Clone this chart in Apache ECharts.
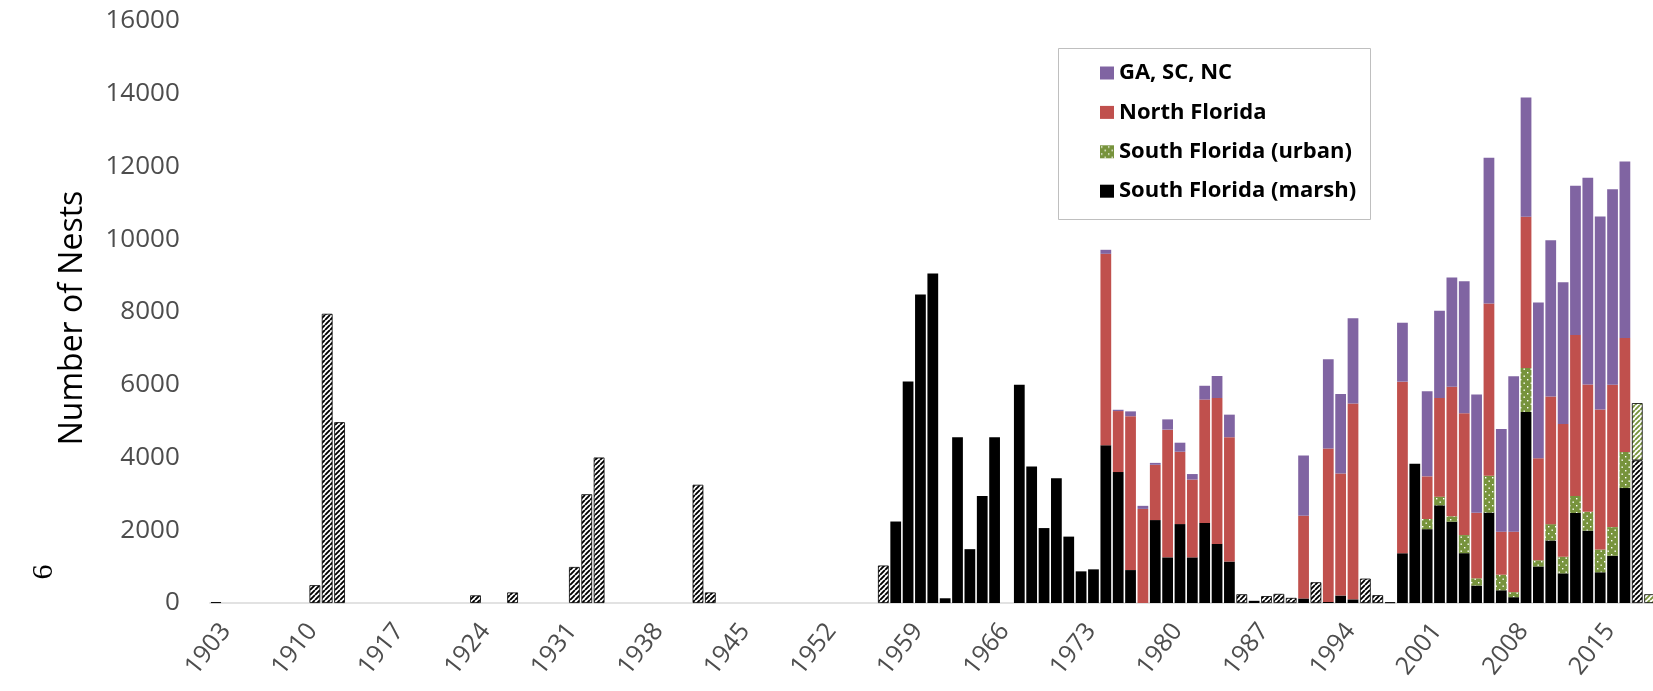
<!DOCTYPE html>
<html>
<head>
<meta charset="utf-8">
<script src="https://cdn.jsdelivr.net/npm/echarts@6/dist/echarts.min.js"></script>
<style>
  html, body { margin: 0; padding: 0; background: #fff; }
  #chart { width: 1653px; height: 691px; }
</style>
</head>
<body>
<div id="chart"></div>
<script>
// Wood stork nest counts by region, 1903-2019

const firstYear = 1903;
const lastYear = 2019;

// Counts without a regional breakdown: [year, nests]
const unknownRegion = [
  [1903, 25], [1911, 490], [1912, 7950], [1913, 4970], [1924, 210], [1927, 290],
  [1932, 990], [1933, 2990], [1934, 4000], [1942, 3250], [1943, 290], [1957, 1030],
  [1986, 240], [1988, 190], [1989, 250], [1990, 140], [1992, 570], [1996, 670],
  [1997, 215], [1998, 20], [2018, 3920]
];

// Preliminary urban South Florida counts: [year, nests]
const urbanPreliminary = [[2018, 1575], [2019, 240]];

// South Florida (marsh), one value per year starting 1958
const marshStart = 1958;
const marsh = [
  2240, 6090, 8480, 9060, 130, 4560, 1480, 2940, 4560, null,   // 1958-1967
  6000, 3750, 2060, 3430, 1825, 870, 925, 4335, 3600, 905,     // 1968-1977
  0, 2280, 1255, 2170, 1255, 2200, 1625, 1140, null, 60,       // 1978-1987
  null, null, null, 125, null, 30, 205, 100, null, null,       // 1988-1997
  null, 1368, 3830, 2030, 2685, 2235, 1370, 480, 2485, 350,    // 1998-2007
  160, 5250, 1005, 1720, 815, 2475, 1990, 845, 1300, 3160      // 2008-2017
];

// South Florida (urban), one value per year starting 2001
const urbanStart = 2001;
const urban = [
  279, 239, 149, 497, 199, 1014, 428, 139, 1213, 169,          // 2001-2010
  447, 458, 467, 517, 626, 786, 994                            // 2011-2017
];

// North Florida and GA/SC/NC, one value per year starting 1975
const northStart = 1975;
const northFlorida = [
  5265, 1677, 4230, 2587, 1520, 3511, 1989, 2139, 3393, 4011,  // 1975-1984
  3418, null, null, null, null, null, 2275, null, 4220, 3355,  // 1985-1994
  5385, null, null, null, 4717, null, 1173, 2714, 3560, 3351,  // 1995-2004
  1800, 4732, 1183, 1661, 4156, 2804, 3510, 3648, 4424, 3500,  // 2005-2014
  3848, 3917, 3132                                             // 2015-2017
];
const gaScNc = [
  110, 35, 133, 84, 52, 282, 248, 151, 379, 604,               // 1975-1984
  620, null, null, null, null, null, 1655, null, 2450, 2185,   // 1985-1994
  2345, null, null, null, 1620, null, 2336, 2396, 3002, 3629,  // 1995-2004
  3251, 4007, 2823, 4275, 3281, 4285, 4295, 3898, 4106, 5687,  // 2005-2014
  5309, 5369, 4852                                             // 2015-2017
];

const yTicks = { min: 0, max: 16000, step: 2000 };

// ---- build per-category columns ----
const years = [];
for (let y = firstYear; y <= lastYear; y++) years.push(String(y));
const n = years.length;
const blank = () => new Array(n).fill(null);
function fromPairs(pairs) {
  const col = blank();
  pairs.forEach(([yr, v]) => { col[yr - firstYear] = v; });
  return col;
}
function fromRun(start, values) {
  const col = blank();
  values.forEach((v, i) => { col[start - firstYear + i] = v; });
  return col;
}

// ---- fill patterns ----
function stripePattern(fg) {
  const s = 5;
  const c = document.createElement('canvas');
  c.width = c.height = s;
  const g = c.getContext('2d');
  g.fillStyle = '#ffffff';
  g.fillRect(0, 0, s, s);
  g.strokeStyle = fg;
  g.lineWidth = 1.9;
  g.beginPath();
  for (let k = -1; k <= 1; k++) { g.moveTo(k * s, s); g.lineTo(k * s + s, 0); }
  g.stroke();
  return c;
}
function dotPattern(bg) {
  const s = 7;
  const c = document.createElement('canvas');
  c.width = c.height = s;
  const g = c.getContext('2d');
  g.fillStyle = bg;
  g.fillRect(0, 0, s, s);
  g.fillStyle = '#ffffff';
  g.fillRect(1, 1, 1.4, 1.4);
  g.fillRect(4.5, 4.5, 1.4, 1.4);
  return c;
}

const COLORS = { purple: '#8064A2', red: '#C0504D', green: '#77933C', black: '#000000' };
const FONT = '"Open Sans", "DejaVu Sans", sans-serif';
const BAR_W = '87%';

const chart = echarts.init(document.getElementById('chart'), null, { renderer: 'canvas' });

function bar(name, data, color, extra) {
  return Object.assign({
    name, type: 'bar', stack: 'nests', data, barWidth: BAR_W,
    itemStyle: { color },
    emphasis: { disabled: true },
    animation: false
  }, extra || {});
}

chart.setOption({
  animation: false,
  grid: {
    left: 209.8, width: 1446, top: 21, height: 582,
    containLabel: false, outerBoundsMode: 'none'
  },
  xAxis: {
    type: 'category',
    data: years,
    axisLine: { lineStyle: { color: '#d9d9d9', width: 1.5 } },
    axisTick: { show: false },
    axisLabel: {
      interval: 6, rotate: 52, margin: 16, verticalAlign: 'top',
      color: '#4d4d4d', fontFamily: FONT, fontSize: 25
    }
  },
  yAxis: {
    type: 'value',
    min: yTicks.min, max: yTicks.max, interval: yTicks.step,
    splitLine: { show: false },
    axisLine: { show: false },
    axisTick: { show: false },
    axisLabel: {
      margin: 30, color: '#4d4d4d', fontFamily: FONT, fontSize: 26,
      formatter: (v) => String(v)
    }
  },
  legend: {
    orient: 'vertical',
    left: 1095, top: 55,
    itemWidth: 14, itemHeight: 13, itemGap: 13.4,
    icon: 'rect',
    selectedMode: false,
    data: ['GA, SC, NC', 'North Florida', 'South Florida (urban)', 'South Florida (marsh)'],
    textStyle: { fontFamily: FONT, fontWeight: 'bold', fontSize: 22, color: '#000', lineHeight: 26 }
  },
  graphic: [
    {
      type: 'rect', silent: true, z: -1,
      shape: { x: 1058.5, y: 48.5, width: 312, height: 171 },
      style: { fill: '#ffffff', stroke: '#bfbfbf', lineWidth: 1 }
    },
    {
      type: 'text', silent: true,
      x: 73, y: 318, rotation: Math.PI / 2,
      style: {
        text: 'Number of Nests', fill: '#000',
        font: '32px "Open Sans", sans-serif',
        textAlign: 'center', textVerticalAlign: 'middle'
      }
    },
    {
      type: 'text', silent: true,
      x: 44, y: 572, rotation: Math.PI / 2,
      style: {
        text: '6', fill: '#000',
        font: '30px "Liberation Serif", serif',
        textAlign: 'center', textVerticalAlign: 'middle'
      }
    }
  ],
  series: [
    bar('Unknown region', fromPairs(unknownRegion), null,
      { itemStyle: { color: { image: stripePattern('#000'), repeat: 'repeat' }, borderColor: '#000', borderWidth: 0.8 } }),
    bar('South Florida (marsh)', fromRun(marshStart, marsh), COLORS.black),
    bar('South Florida (urban)', fromRun(urbanStart, urban), { image: dotPattern(COLORS.green), repeat: 'repeat' }),
    bar('North Florida', fromRun(northStart, northFlorida), COLORS.red),
    bar('GA, SC, NC', fromRun(northStart, gaScNc), COLORS.purple),
    bar('Urban (preliminary)', fromPairs(urbanPreliminary), null,
      { itemStyle: { color: { image: stripePattern(COLORS.green), repeat: 'repeat' }, borderColor: '#000', borderWidth: 0.8 } })
  ]
});
</script>
</body>
</html>
